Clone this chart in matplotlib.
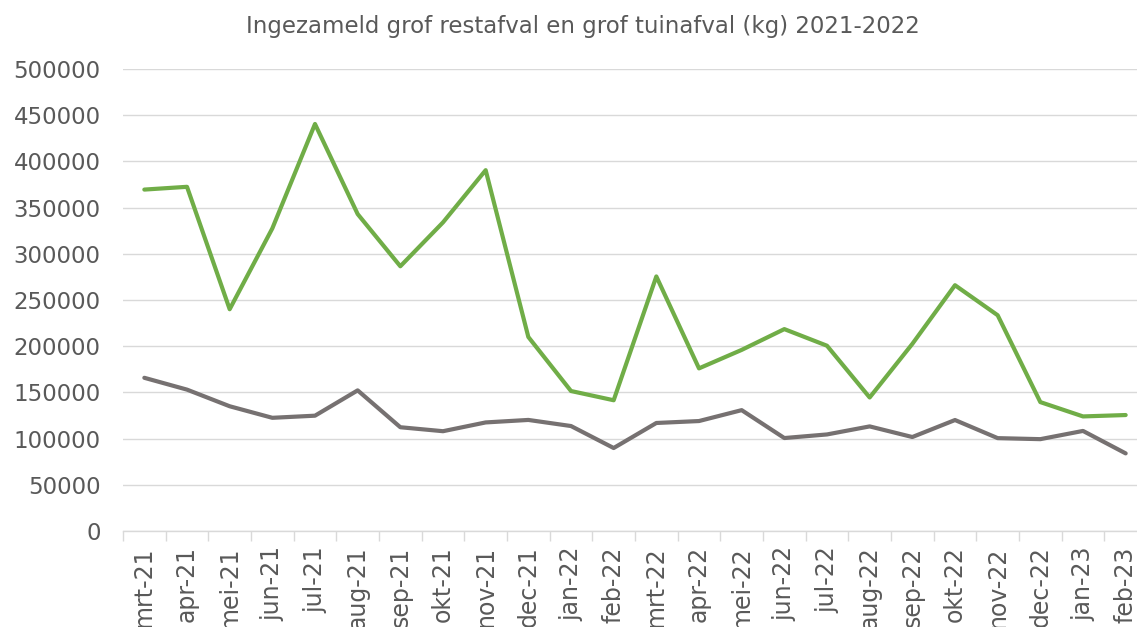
import matplotlib
matplotlib.use('Agg')
import matplotlib.pyplot as plt

# Maanden (mrt-21 t/m feb-23)
maanden = ['mrt-21', 'apr-21', 'mei-21', 'jun-21', 'jul-21', 'aug-21', 'sep-21', 'okt-21',
           'nov-21', 'dec-21', 'jan-22', 'feb-22', 'mrt-22', 'apr-22', 'mei-22', 'jun-22',
           'jul-22', 'aug-22', 'sep-22', 'okt-22', 'nov-22', 'dec-22', 'jan-23', 'feb-23']

# Grof tuinafval (kg)
tuinafval = [369500, 372500, 240000, 327500, 440500, 343000, 286500, 334000,
             390500, 210000, 151500, 141500, 275500, 176000, 196000, 218500,
             200500, 144500, 202500, 266000, 233500, 139500, 124000, 125500]

# Grof restafval (kg)
restafval = [165800, 153000, 135000, 122500, 124800, 152200, 112300, 108000,
             117500, 120200, 113600, 89800, 116900, 119000, 130800, 100600,
             104500, 113200, 101700, 120100, 100500, 99400, 108300, 84000]

y_ticks = list(range(0, 500001, 50000))

tekst_kleur = '#595959'
raster_kleur = '#D9D9D9'

fig = plt.figure(figsize=(11.37, 6.27), dpi=100)
ax = fig.add_axes([123 / 1137, 1 - 531 / 627, 1024 / 1137, 462 / 627])

x = list(range(len(maanden)))
ax.plot(x, tuinafval, color='#70AD47', linewidth=3, solid_joinstyle='round', solid_capstyle='round')
ax.plot(x, restafval, color='#767171', linewidth=3, solid_joinstyle='round', solid_capstyle='round')

ax.set_xlim(-0.5, len(maanden) - 0.5)
ax.set_ylim(0, 500000)
ax.set_yticks(y_ticks)
ax.set_yticklabels([str(v) for v in y_ticks], fontsize=16.5, color=tekst_kleur)
ax.grid(axis='y', color=raster_kleur, linewidth=1)
ax.set_axisbelow(True)

# x-as: streepjes tussen de categorieen, labels verticaal
ax.set_xticks([i - 0.5 for i in range(len(maanden) + 1)])
ax.set_xticklabels([])
ax.set_xticks(x, minor=True)
ax.set_xticklabels(maanden, minor=True, rotation=90, fontsize=17, color=tekst_kleur,
                   ha='center', va='top')
ax.tick_params(axis='x', which='major', length=7, color=raster_kleur, width=1)
ax.tick_params(axis='x', which='minor', length=0, pad=11)
ax.tick_params(axis='y', length=0, pad=16)

for kant in ['top', 'right', 'left']:
    ax.spines[kant].set_visible(False)
ax.spines['bottom'].set_color(raster_kleur)
ax.spines['bottom'].set_linewidth(1)

fig.text(583 / 1137, 1 - 27 / 627, 'Ingezameld grof restafval en grof tuinafval (kg) 2021-2022',
         ha='center', va='center', fontsize=16.5, color=tekst_kleur)

fig.savefig('out.png', dpi=100)
